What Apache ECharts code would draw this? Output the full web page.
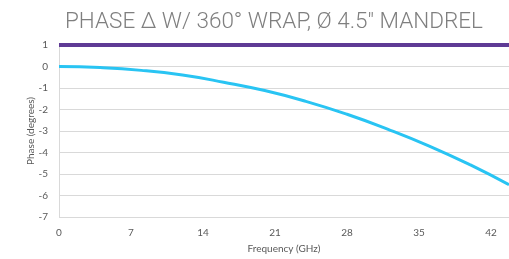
<!DOCTYPE html>
<html>
<head>
<meta charset="utf-8">
<script src="https://cdn.jsdelivr.net/npm/echarts@6/dist/echarts.min.js"></script>
<style>
  html, body { margin: 0; padding: 0; background: #fff; }
  #chart { width: 509px; height: 259px; }
</style>
</head>
<body>
<div id="chart"></div>
<script>
// datos
const freqs = [0, 4, 8, 12, 16, 20, 24, 28, 32, 36, 40, 43.75];
const phaseWrap = [0, -0.05, -0.18, -0.4, -0.73, -1.12, -1.62, -2.22, -2.92, -3.7, -4.58, -5.5];
const refFreqs = [0, 43.75];
const refLevel = [1, 1];
const xTicks = [0, 7, 14, 21, 28, 35, 42];
const yTicks = [-7, -6, -5, -4, -3, -2, -1, 0, 1];

const toPairs = (xs, ys) => xs.map((x, i) => [x, ys[i]]);

const getOption = () => {
  return {
    animation: false,
    title: {
      text: 'PHASE \u0394 W/ 360\u00b0 WRAP, \u00d8 4.5" MANDREL',
      left: 60,
      top: 6,
      textStyle: {
        fontFamily: 'Roboto',
        fontWeight: 300,
        fontSize: 22.5,
        color: '#7f7f7f',
      },
    },
    grid: {
      left: 59,
      right: 0,
      top: 45,
      bottom: 39,
    },
    xAxis: {
      type: 'value',
      min: 0,
      max: 43.75,
      interval: 7,
      name: 'Frequency (GHz)',
      nameLocation: 'middle',
      nameGap: 27,
      nameTextStyle: { fontFamily: 'Lato', fontSize: 10, color: '#595959' },
      axisLine: { show: false },
      axisTick: { show: false },
      splitLine: { show: false },
      axisLabel: {
        fontFamily: 'Lato',
        fontSize: 10,
        color: '#595959',
        margin: 11,
        showMaxLabel: false,
        formatter: (v) => (xTicks.includes(v) ? String(v) : ''),
      },
    },
    yAxis: {
      type: 'value',
      min: yTicks[0],
      max: yTicks[yTicks.length - 1],
      interval: 1,
      name: 'Phase (degrees)',
      nameLocation: 'middle',
      nameGap: 23,
      nameMoveOverlap: false,
      nameTextStyle: { fontFamily: 'Lato', fontSize: 10, color: '#595959' },
      axisLine: { show: true, lineStyle: { color: '#d9d9d9', width: 1 } },
      axisTick: { show: false },
      axisLabel: {
        fontFamily: 'Lato',
        fontSize: 10,
        color: '#595959',
        margin: 11,
      },
      splitLine: { lineStyle: { color: '#d9d9d9', width: 1 } },
    },
    series: [
      {
        name: 'Wrap',
        type: 'line',
        data: toPairs(freqs, phaseWrap),
        smooth: true,
        showSymbol: false,
        lineStyle: { color: '#29c4f3', width: 3 },
      },
      {
        name: 'Ref',
        type: 'line',
        data: toPairs(refFreqs, refLevel),
        showSymbol: false,
        lineStyle: { color: '#5f3a95', width: 4 },
      },
    ],
  };
};

const chart = echarts.init(document.getElementById('chart'));
chart.setOption(getOption());
</script>
</body>
</html>
